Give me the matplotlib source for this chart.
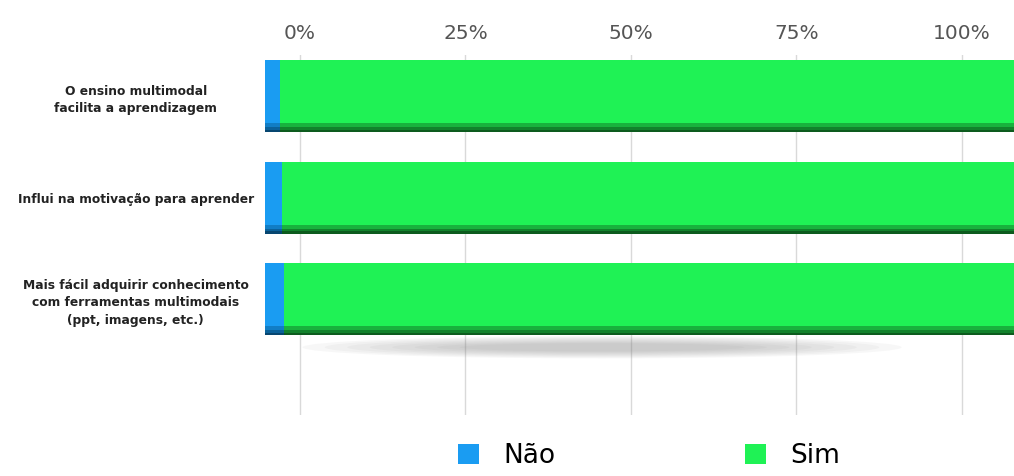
import matplotlib.pyplot as plt
from matplotlib.patches import Ellipse, Patch
import numpy as np

categories = [
    "O ensino multimodal\nfacilita a aprendizagem",
    "Influi na motivação para aprender",
    "Mais fácil adquirir conhecimento\ncom ferramentas multimodais\n(ppt, imagens, etc.)",
]
nao = [2.0, 2.3, 2.5]
sim = [98.0, 97.7, 97.5]
tick_values = [0, 25, 50, 75, 100]
tick_labels = ["0%", "25%", "50%", "75%", "100%"]

BLUE = "#1a9cf2"
GREEN = "#1ff255"
BAR_H = 0.71

fig = plt.figure(figsize=(10.14, 4.76), dpi=100)
fig.patch.set_facecolor("white")
pos = [0.2613, 0.128, 0.7387, 0.7563]

# back plane: grid + percentage labels (perspective makes it a bit narrower)
grid_ax = fig.add_axes(pos)
grid_ax.set_xlim(-5.3, 107.9)
grid_ax.set_ylim(0, 1)
grid_ax.set_xticks(tick_values)
grid_ax.set_xticklabels(tick_labels)
grid_ax.xaxis.tick_top()
grid_ax.tick_params(axis="x", length=0, pad=9, labelsize=14.5, labelcolor="#555555")
grid_ax.set_yticks([])
grid_ax.grid(True, axis="x", color="#d9d9d9", linewidth=1)
for s in grid_ax.spines.values():
    s.set_visible(False)
grid_ax.set_facecolor("white")

# front plane: bars
ax = fig.add_axes(pos)
ax.patch.set_alpha(0)
y = np.arange(len(categories))
ax.set_xlim(0, 100)
ax.set_ylim(3.143, -0.404)

# soft shadow under the last bar
last = y[-1]
for i in range(8):
    ax.add_patch(Ellipse((45, last + BAR_H / 2 + 0.12), 80 - i * 6, 0.22 - i * 0.02,
                         facecolor="#808080", alpha=0.06, edgecolor="none", zorder=1))

ax.barh(y, nao, height=BAR_H, color=BLUE, zorder=3)
ax.barh(y, sim, left=nao, height=BAR_H, color=GREEN, zorder=3)

# darker lower rim to mimic the 3d bar look
for k, frac in enumerate([0.12, 0.07, 0.03]):
    shade = 0.75 - k * 0.2
    hh = BAR_H * frac
    ax.barh(y + BAR_H / 2 - hh / 2, nao, height=hh,
            color=(0.05 * shade, 0.5 * shade, 0.8 * shade), zorder=4, alpha=0.5)
    ax.barh(y + BAR_H / 2 - hh / 2, sim, left=nao, height=hh,
            color=(0.1 * shade, 0.6 * shade, 0.2 * shade), zorder=4, alpha=0.5)

ax.set_yticks(y)
ax.set_yticklabels(categories, fontsize=8.8, fontweight="bold", color="#222222",
                   ha="center", linespacing=1.45)
ax.tick_params(axis="y", length=0, pad=93)
ax.set_xticks([])
for s in ax.spines.values():
    s.set_visible(False)

handles = [Patch(facecolor=BLUE, label="Não"), Patch(facecolor=GREEN, label="Sim")]
fig.legend(handles=handles, loc="lower center", bbox_to_anchor=(0.64, -0.035), ncol=2,
           frameon=False, fontsize=19, handlelength=0.8, handleheight=0.8,
           columnspacing=7.2, handletextpad=0.9)

fig.savefig("out.png", dpi=100, facecolor="white")
